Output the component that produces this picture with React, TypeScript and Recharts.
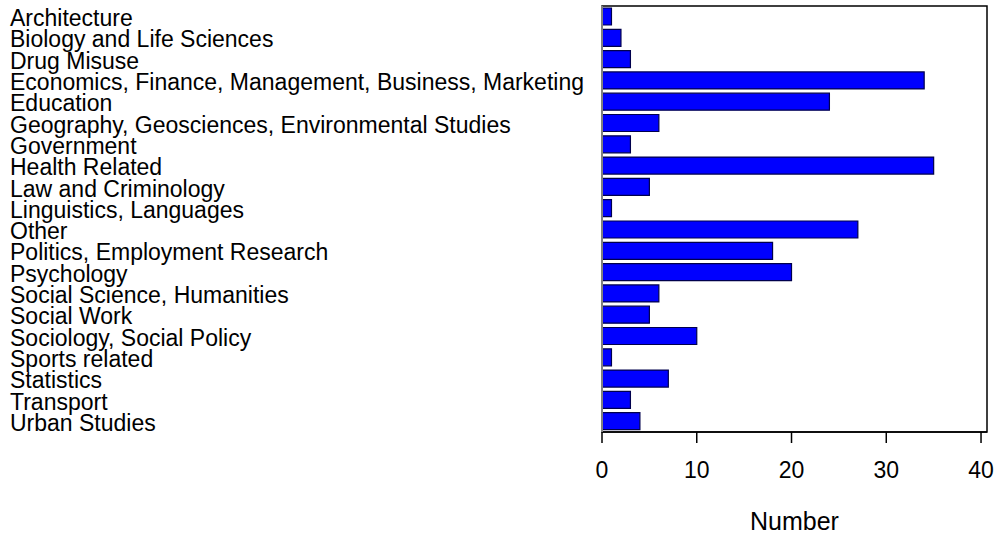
import React from 'react';
import { BarChart, Bar, XAxis, YAxis, ReferenceArea } from 'recharts';

const categories = [
  'Architecture',
  'Biology and Life Sciences',
  'Drug Misuse',
  'Economics, Finance, Management, Business, Marketing',
  'Education',
  'Geography, Geosciences, Environmental Studies',
  'Government',
  'Health Related',
  'Law and Criminology',
  'Linguistics, Languages',
  'Other',
  'Politics, Employment Research',
  'Psychology',
  'Social Science, Humanities',
  'Social Work',
  'Sociology, Social Policy',
  'Sports related',
  'Statistics',
  'Transport',
  'Urban Studies',
];

const counts = [1, 2, 3, 34, 24, 6, 3, 35, 5, 1, 27, 18, 20, 6, 5, 10, 1, 7, 3, 4];

const xTicks = [0, 10, 20, 30, 40];
const xMax = 40.63;

const data = categories.map((name, i) => ({ name, value: counts[i] }));

const FONT = '"Liberation Sans", Arial, sans-serif';

const LeftTick = (props: any) => {
  const { y, payload } = props;
  return (
    <text x={10} y={y + 9.5} textAnchor="start" fontFamily={FONT} fontSize={23} fill="#000">
      {payload.value}
    </text>
  );
};

export default function App() {
  return (
    <div style={{ position: 'absolute', left: 0, top: 0, width: 997, height: 538, background: '#fff' }}>
      <BarChart
        width={997}
        height={538}
        data={data}
        layout="vertical"
        margin={{ top: 6, right: 10, bottom: 0, left: 0 }}
        barSize={17}
      >
        <XAxis
          type="number"
          dataKey="value"
          domain={[0, xMax]}
          ticks={xTicks}
          allowDataOverflow
          height={106}
          tickSize={11}
          tickMargin={19}
          axisLine={{ stroke: '#000', strokeWidth: 1.5 }}
          tickLine={{ stroke: '#000', strokeWidth: 1.5 }}
          tick={{ fontFamily: FONT, fontSize: 23, fill: '#000' }}
          label={{ value: 'Number', position: 'insideBottom', offset: 8, style: { fontFamily: FONT, fontSize: 25, fill: '#000' } }}
        />
        <YAxis
          type="category"
          dataKey="name"
          width={602}
          tickLine={false}
          axisLine={{ stroke: '#808080', strokeWidth: 2 }}
          tick={<LeftTick />}
          interval={0}
        />
        <ReferenceArea x1={0} x2={xMax} fill="none" stroke="#000" strokeWidth={1.5} ifOverflow="visible" />
        <Bar dataKey="value" fill="#0000ff" stroke="#00004d" strokeWidth={1.2} isAnimationActive={false} />
      </BarChart>
    </div>
  );
}
